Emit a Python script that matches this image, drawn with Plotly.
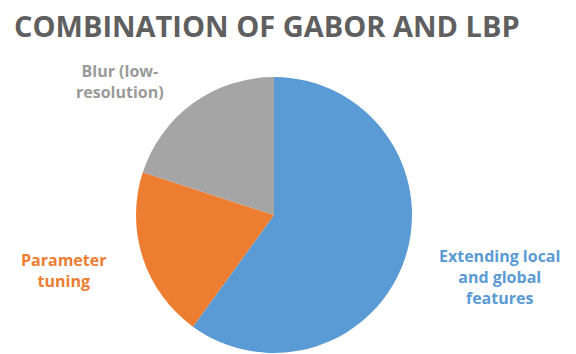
import plotly.graph_objects as go

# Data
categories = ["Extending local and global features", "Parameter tuning", "Blur (low-resolution)"]
values = [60, 20, 20]
label_lines = ["Extending local<br>and global<br>features", "Parameter<br>tuning", "Blur (low-<br>resolution)"]
colors = ["#5B9BD5", "#ED7D31", "#A5A5A5"]
label_colors = ["#5B9BD5", "#ED7D31", "#9A9A9A"]
title_text = "COMBINATION OF GABOR AND LBP"

W, H = 576, 354
fig = go.Figure()
fig.add_trace(go.Pie(
    labels=categories,
    values=values,
    sort=False,
    direction="clockwise",
    rotation=0,
    marker=dict(colors=colors, line=dict(width=0)),
    textinfo="none",
    hoverinfo="label+percent",
    showlegend=False,
    domain=dict(x=[(274 - 138) / W, (274 + 138) / W], y=[1 - 353 / H, 1 - 77 / H]),
))

label_pos = [(499, 277), (63, 270), (120, 82)]
for txt, col, (px, py) in zip(label_lines, label_colors, label_pos):
    fig.add_annotation(
        x=px / W, y=1 - py / H, xref="paper", yref="paper",
        text=txt, showarrow=False, align="center",
        font=dict(family="Open Sans", size=16, color=col, weight="bold"),
        xanchor="center", yanchor="middle",
    )

fig.add_annotation(
    x=12 / W, y=1 - 26 / H, xref="paper", yref="paper",
    text=title_text, showarrow=False, xanchor="left", yanchor="middle",
    font=dict(family="Open Sans", size=29, color="#5f5f5f", weight="bold"),
)

fig.update_layout(
    width=W, height=H,
    margin=dict(l=0, r=0, t=0, b=0),
    paper_bgcolor="white",
    plot_bgcolor="white",
)
fig.write_html("out.html", config={"displayModeBar": False},
               post_script="document.body.style.margin='0';")
